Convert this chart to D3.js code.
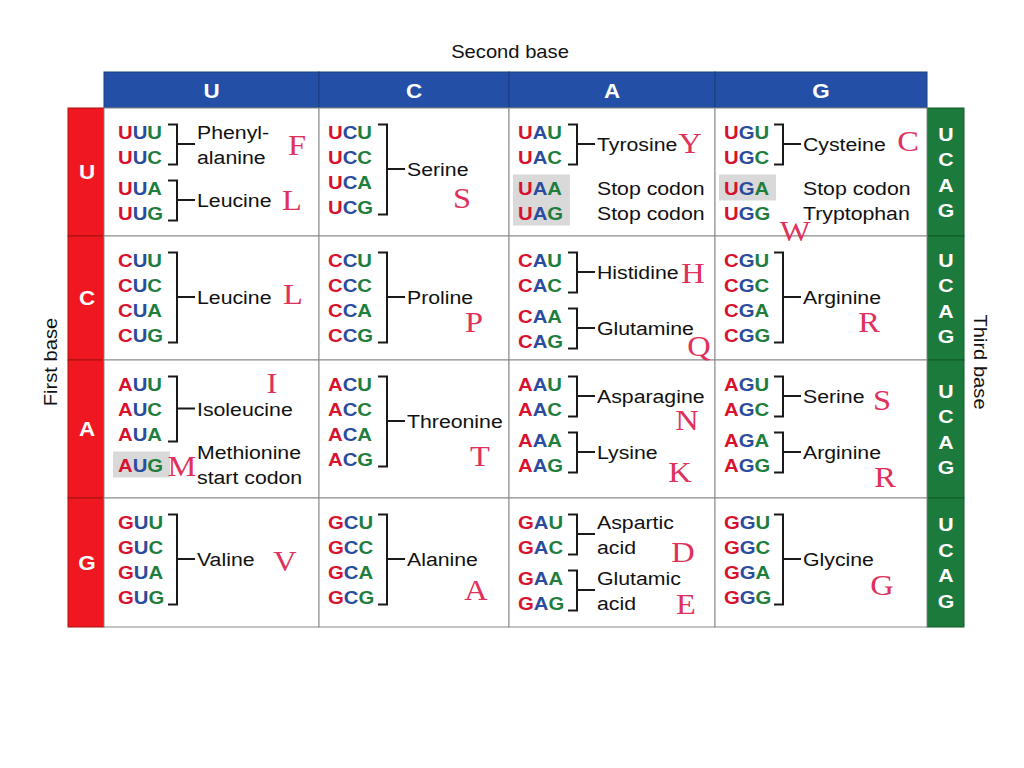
<!DOCTYPE html>
<html>
<head>
<meta charset="utf-8">
<script src="https://cdn.jsdelivr.net/npm/d3@7"></script>
<style>
  body { margin: 0; background: #fff; }
  svg { display: block; }
</style>
</head>
<body>
<svg id="chart" width="1024" height="768"></svg>
<script>
// bases, in table order
const bases = ["U", "C", "A", "G"]

// amino acid groups: first base, second base, first third-base index, last index, name lines, one letter code
const codonGroups = [
  ["U", "U", 0, 1, ["Phenyl-", "alanine"], "F"],
  ["U", "U", 2, 3, ["Leucine"], "L"],
  ["U", "C", 0, 3, ["Serine"], "S"],
  ["U", "A", 0, 1, ["Tyrosine"], "Y"],
  ["U", "A", 2, 2, ["Stop codon"], ""],
  ["U", "A", 3, 3, ["Stop codon"], ""],
  ["U", "G", 0, 1, ["Cysteine"], "C"],
  ["U", "G", 2, 2, ["Stop codon"], ""],
  ["U", "G", 3, 3, ["Tryptophan"], "W"],
  ["C", "U", 0, 3, ["Leucine"], "L"],
  ["C", "C", 0, 3, ["Proline"], "P"],
  ["C", "A", 0, 1, ["Histidine"], "H"],
  ["C", "A", 2, 3, ["Glutamine"], "Q"],
  ["C", "G", 0, 3, ["Arginine"], "R"],
  ["A", "U", 0, 2, ["Isoleucine"], "I"],
  ["A", "U", 3, 3, ["Methionine", "start codon"], "M"],
  ["A", "C", 0, 3, ["Threonine"], "T"],
  ["A", "A", 0, 1, ["Asparagine"], "N"],
  ["A", "A", 2, 3, ["Lysine"], "K"],
  ["A", "G", 0, 1, ["Serine"], "S"],
  ["A", "G", 2, 3, ["Arginine"], "R"],
  ["G", "U", 0, 3, ["Valine"], "V"],
  ["G", "C", 0, 3, ["Alanine"], "A"],
  ["G", "A", 0, 1, ["Aspartic", "acid"], "D"],
  ["G", "A", 2, 3, ["Glutamic", "acid"], "E"],
  ["G", "G", 0, 3, ["Glycine"], "G"],
]

// codons on a grey background (stop / start)
const shadedCodons = ["UAA", "UAG", "UGA", "AUG"]

// hand written letters: offset inside the cell (same order as codonGroups)
const letterOffsets = [
  [193, 37], [188, 92], [143, 90], [181, 35], null, null, [193, 33], null, [80, 123],
  [189, 58], [155, 86], [184, 37], [190, 110], [154, 86],
  [168, 23], [78, 106], [161, 96], [178, 60], [171, 112], [167, 40], [170, 117],
  [181, 63], [157, 92], [174, 54], [177, 106], [167, 87],
]

const red = "#f01820", blue = "#2350a6", green = "#1c7a3c"
const baseColors = { first: "#d8122e", second: "#2b4c9e", third: "#1f7d3e" }
const SX = 1.12 // the picture is a bit stretched sideways

const svg = d3.select("#chart")

// column / row edges
const x = d3.scaleLinear().domain([0, 1, 2, 3, 4]).range([104, 319, 509, 715, 927])
const y = d3.scaleLinear().domain([0, 1, 2, 3, 4]).range([108, 236, 360, 498, 627])
const codonY = d3.scaleLinear().domain([0, 3]).range([23.5, 98.5])

function txt(g, tx, ty, s, size, opts = {}) {
  return g
    .append("text")
    .attr("transform", `translate(${tx},${ty}) ${opts.rotate ? "rotate(" + opts.rotate + ")" : ""} scale(${opts.sx || SX},1)`)
    .attr("text-anchor", opts.anchor || "start")
    .style("font-family", opts.serif ? "'Liberation Serif', serif" : "'Liberation Sans', Arial, sans-serif")
    .style("font-size", size + "px")
    .style("font-weight", opts.bold ? "bold" : "normal")
    .style("fill", opts.fill || "#111")
    .text(s)
}

// titles
txt(svg, 510, 58, "Second base", 18, { anchor: "middle" })
txt(svg, 57, 362, "First base", 18, { anchor: "middle", rotate: -90 })
txt(svg, 974, 362, "Third base", 18, { anchor: "middle", rotate: 90 })

// blue header
const header = svg.append("g")
header
  .selectAll("rect")
  .data(bases)
  .join("rect")
  .attr("x", (d, i) => x(i))
  .attr("y", 72)
  .attr("width", (d, i) => x(i + 1) - x(i))
  .attr("height", 36)
  .attr("fill", blue)
  .attr("stroke", "#1b3c80")
  .attr("stroke-width", 1)
bases.forEach((d, i) => {
  txt(header, (x(i) + x(i + 1)) / 2, 98, d, 20, { anchor: "middle", bold: true, fill: "#fff" })
})

// red first base bar
const leftBar = svg.append("g")
leftBar
  .selectAll("rect")
  .data(bases)
  .join("rect")
  .attr("x", 68)
  .attr("y", (d, i) => y(i))
  .attr("width", 36)
  .attr("height", (d, i) => y(i + 1) - y(i))
  .attr("fill", red)
  .attr("stroke", "#a51010")
  .attr("stroke-width", 1)
bases.forEach((d, i) => {
  txt(leftBar, 87, (y(i) + y(i + 1)) / 2 + 7, d, 20, { anchor: "middle", bold: true, fill: "#fff" })
})

// green third base bar
const rightBar = svg.append("g")
rightBar
  .selectAll("rect")
  .data(bases)
  .join("rect")
  .attr("x", 927)
  .attr("y", (d, i) => y(i))
  .attr("width", 37)
  .attr("height", (d, i) => y(i + 1) - y(i))
  .attr("fill", green)
  .attr("stroke", "#0f5a28")
  .attr("stroke-width", 1)
bases.forEach((d, i) => {
  const mid = (y(i) + y(i + 1)) / 2
  bases.forEach((b, k) => {
    txt(rightBar, 946, mid + (k - 1.5) * 25.5 + 7, b, 19, { anchor: "middle", bold: true, fill: "#fff" })
  })
})

// grid cells
const cells = d3.cross(d3.range(4), d3.range(4)) // [row, col]
svg
  .append("g")
  .selectAll("rect")
  .data(cells)
  .join("rect")
  .attr("x", (d) => x(d[1]))
  .attr("y", (d) => y(d[0]))
  .attr("width", (d) => x(d[1] + 1) - x(d[1]))
  .attr("height", (d) => y(d[0] + 1) - y(d[0]))
  .attr("fill", "#fff")
  .attr("stroke", "#8a8a8a")
  .attr("stroke-width", 1)

const body = svg.append("g")

cells.forEach(([r, c]) => {
  const f = bases[r], s = bases[c]
  const groups = codonGroups
    .map((g, i) => ({ g, i }))
    .filter((d) => d.g[0] === f && d.g[1] === s)
  // extra gap before the first group break
  const gapAt = groups.length > 1 ? groups[1].g[2] : 9
  const top = y(r)
  const cx = x(c) + (c === 0 ? 14 : 9)
  const cy = (k) => top + codonY(k) + (k >= gapAt ? 6 : 0)

  // grey boxes
  bases.forEach((t, k) => {
    if (shadedCodons.includes(f + s + t)) {
      body
        .append("rect")
        .attr("x", cx - 5)
        .attr("y", cy(k) - 13)
        .attr("width", 57)
        .attr("height", 26)
        .attr("fill", "#d9d9d9")
    }
  })

  // codons, coloured per base
  bases.forEach((t, k) => {
    const tx = body
      .append("text")
      .attr("transform", `translate(${cx},${cy(k) + 7}) scale(1.07,1)`)
      .style("font-family", "'Liberation Sans', Arial, sans-serif")
      .style("font-size", "19px")
      .style("font-weight", "bold")
    tx.append("tspan").style("fill", baseColors.first).text(f)
    tx.append("tspan").style("fill", baseColors.second).text(s)
    tx.append("tspan").style("fill", baseColors.third).text(t)
  })

  groups.forEach(({ g, i }) => {
    const [, , a, b, lines, code] = g
    const y0 = cy(a), y1 = cy(b)
    const mid = (y0 + y1) / 2
    if (b > a) {
      // bracket
      body
        .append("path")
        .attr(
          "d",
          `M${cx + 50},${y0 - 7}H${cx + 59}V${y1 + 8}H${cx + 50}M${cx + 59},${mid}H${cx + 77}`
        )
        .attr("fill", "none")
        .attr("stroke", "#1a1a1a")
        .attr("stroke-width", 2)
    }
    lines.forEach((l, j) => {
      const ly = mid + (j - (lines.length - 1) / 2) * 25 + 7
      txt(body, cx + 79, ly, l, 19)
    })
    const off = letterOffsets[i]
    if (code && off) {
      txt(body, x(c) + off[0], top + off[1] + 10, code, 29, {
        anchor: "middle",
        serif: true,
        fill: "#e0305c",
      })
    }
  })
})
</script>
</body>
</html>
